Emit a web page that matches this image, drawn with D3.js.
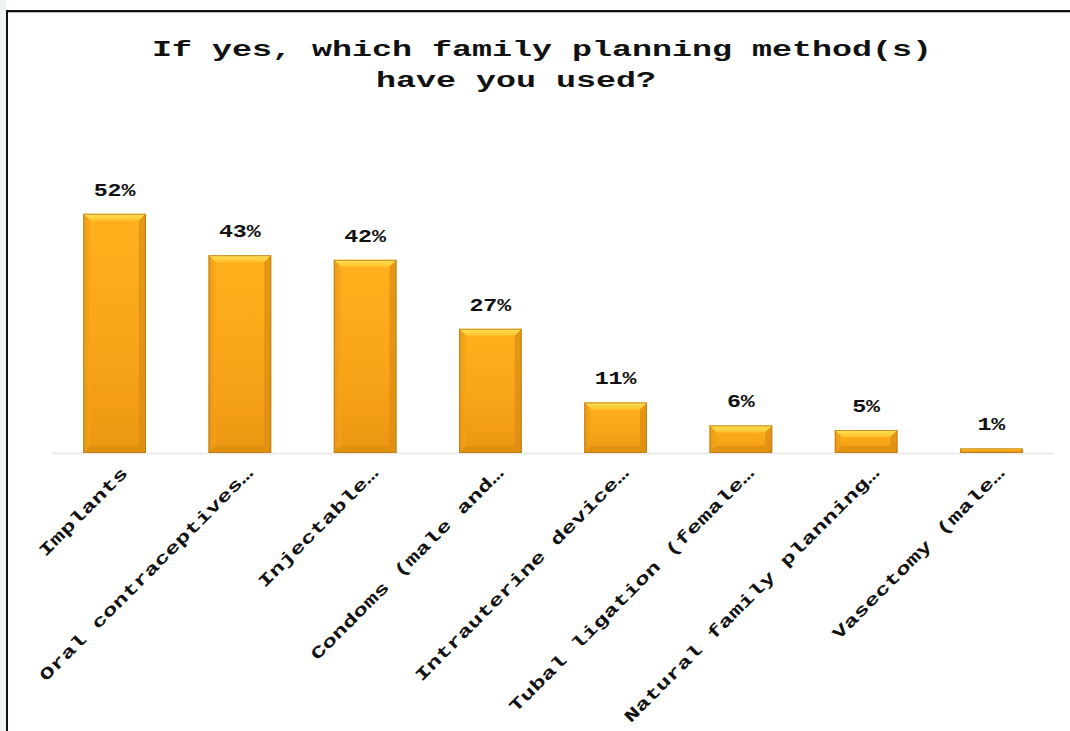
<!DOCTYPE html>
<html><head><meta charset="utf-8">
<script src="https://cdn.jsdelivr.net/npm/d3@7"></script>
<style>
html,body{margin:0;padding:0;background:#fff;}
svg{display:block;}
</style></head>
<body>
<svg id="chart" width="1070" height="731"></svg>
<script>
const titleLines = ["If yes, which family planning method(s)", "have you used?"];
const categories = ["Implants", "Oral contraceptives\u2026", "Injectable\u2026", "Condoms (male and\u2026",
  "Intrauterine device\u2026", "Tubal ligation (female\u2026", "Natural family planning\u2026", "Vasectomy (male\u2026"];
const values = [52, 43, 42, 27, 11, 6, 5, 1];

const svg = d3.select("#chart");
const W = 1070, H = 731;

// outer page strips and frame
svg.append("rect").attr("x",0).attr("y",0).attr("width",6).attr("height",H).attr("fill","#eef4f2");
svg.append("line").attr("x1",7).attr("x2",7).attr("y1",10).attr("y2",H).attr("stroke","#111").attr("stroke-width",2);
svg.append("line").attr("x1",6).attr("x2",W).attr("y1",11).attr("y2",11).attr("stroke","#111").attr("stroke-width",2);
svg.append("line").attr("x1",8).attr("x2",W).attr("y1",12.5).attr("y2",12.5).attr("stroke","#bbb").attr("stroke-width",1);

const defs = svg.append("defs");
const g1 = defs.append("linearGradient").attr("id","body").attr("x1",0).attr("x2",0).attr("y1",0).attr("y2",1);
g1.append("stop").attr("offset","0%").attr("stop-color","#FFB11C");
g1.append("stop").attr("offset","60%").attr("stop-color","#F8A418");
g1.append("stop").attr("offset","100%").attr("stop-color","#EC9612");
const gTop = defs.append("linearGradient").attr("id","topb").attr("x1",0).attr("x2",0).attr("y1",0).attr("y2",1);
gTop.append("stop").attr("offset","0%").attr("stop-color","#FFE35A");
gTop.append("stop").attr("offset","100%").attr("stop-color","#FFC22A");
const gL = defs.append("linearGradient").attr("id","side").attr("x1",0).attr("x2",1).attr("y1",0).attr("y2",0);
gL.append("stop").attr("offset","0%").attr("stop-color","#E39414");
gL.append("stop").attr("offset","100%").attr("stop-color","#F6A51A");

const x = d3.scaleBand().domain(categories).range([52, 1054]).paddingInner(0.5).paddingOuter(0.25);
const y = d3.scaleLinear().domain([0, 100]).range([453, 453 - 460]);

// baseline
svg.append("line").attr("x1",52).attr("x2",1054).attr("y1",y(0)+0.5).attr("y2",y(0)+0.5)
  .attr("stroke","#ececec").attr("stroke-width",2);

// title
const titleCharW = 20;
const titleCenters = [542, 516];
svg.selectAll("text.title").data(titleLines).join("text").attr("class","title")
  .attr("x", (d,i)=>titleCenters[i]).attr("y",(d,i)=>56 + i*31)
  .attr("text-anchor","middle")
  .attr("font-family","'Liberation Mono','Courier New',monospace").attr("font-weight","bold")
  .attr("font-size",22).attr("fill","#111")
  .attr("textLength", d => d.length*titleCharW).attr("lengthAdjust","spacingAndGlyphs")
  .text(d=>d);

// bars
const bars = svg.append("g").selectAll("g").data(values).join("g");
bars.each(function(v,i){
  const g = d3.select(this);
  const x0 = x(categories[i]), bw = x.bandwidth();
  const y0 = y(v), y1 = y(0);
  const h = y1 - y0;
  const b = Math.min(7, h/3);
  g.append("rect").attr("x",x0).attr("y",y0).attr("width",bw).attr("height",h).attr("fill","url(#body)");
  g.append("path").attr("d",`M${x0},${y0}L${x0+bw},${y0}L${x0+bw-b},${y0+b}L${x0+b},${y0+b}Z`).attr("fill","url(#topb)");
  g.append("path").attr("d",`M${x0},${y0}L${x0+b},${y0+b}L${x0+b},${y1-b}L${x0},${y1}Z`).attr("fill","url(#side)").attr("opacity",0.7);
  g.append("path").attr("d",`M${x0+bw},${y0}L${x0+bw-b},${y0+b}L${x0+bw-b},${y1-b}L${x0+bw},${y1}Z`).attr("fill","#D88B12").attr("opacity",0.7);
  g.append("path").attr("d",`M${x0},${y1}L${x0+b},${y1-b}L${x0+bw-b},${y1-b}L${x0+bw},${y1}Z`).attr("fill","#DC8E10").attr("opacity",0.8);
  g.append("rect").attr("x",x0+0.5).attr("y",y0+0.5).attr("width",bw-1).attr("height",Math.max(0,h-1))
    .attr("fill","none").attr("stroke","#B7791A").attr("stroke-width",1).attr("stroke-opacity",0.8);
});

// value labels
svg.append("g").selectAll("text").data(values).join("text")
  .attr("x",(d,i)=>x(categories[i]) + x.bandwidth()/2)
  .attr("y",d=>y(d) - 18)
  .attr("text-anchor","middle")
  .attr("font-family","'Liberation Mono','Courier New',monospace").attr("font-weight","bold")
  .attr("font-size",19).attr("fill","#111")
  .attr("textLength",d=>(d+"%").length*14).attr("lengthAdjust","spacingAndGlyphs")
  .text(d=>d+"%");

// category labels
const labCharW = 14.7;
svg.append("g").selectAll("text").data(categories).join("text")
  .attr("transform",d=>`translate(${x(d)+x.bandwidth()/2+14},${474}) rotate(-45)`)
  .attr("text-anchor","end")
  .attr("font-family","'Liberation Mono','Courier New',monospace").attr("font-weight","bold")
  .attr("font-size",17).attr("fill","#111")
  .attr("textLength",d=>d.length*labCharW).attr("lengthAdjust","spacingAndGlyphs")
  .text(d=>d);
</script>
</body></html>
